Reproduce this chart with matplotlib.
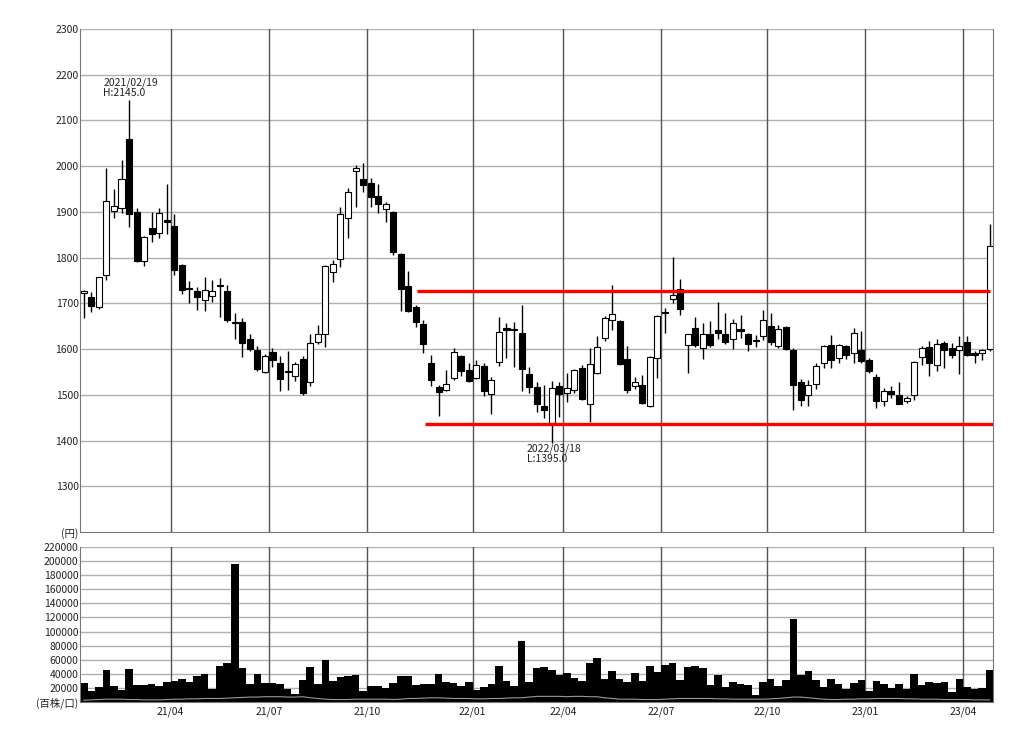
import numpy as np
import matplotlib
matplotlib.use("Agg")
import matplotlib.pyplot as plt

plt.rcParams['font.family'] = ['Noto Sans CJK JP', 'DejaVu Sans']

# weekly OHLC, 2021/01/08 .. 2023/04/28
opens = [1722, 1715, 1693, 1762, 1903, 1908, 2059, 1900, 1793, 1865,
         1854, 1882, 1869, 1784, 1733, 1727, 1708, 1717, 1737, 1728,
         1658, 1660, 1623, 1599, 1549, 1593, 1569, 1551, 1542, 1579,
         1527, 1616, 1634, 1769, 1796, 1886, 1990, 1973, 1964, 1935,
         1906, 1900, 1807, 1737, 1691, 1655, 1569, 1517, 1511, 1537,
         1584, 1555, 1537, 1564, 1502, 1572, 1646, 1642, 1636, 1545,
         1518, 1476, 1439, 1519, 1505, 1510, 1558, 1481, 1548, 1624,
         1664, 1661, 1578, 1520, 1522, 1475, 1580, 1682, 1710, 1732,
         1608, 1646, 1602, 1633, 1641, 1634, 1621, 1645, 1632, 1619,
         1629, 1650, 1606, 1648, 1599, 1528, 1499, 1524, 1570, 1608,
         1581, 1606, 1591, 1599, 1577, 1540, 1487, 1508, 1500, 1487,
         1500, 1583, 1605, 1566, 1613, 1602, 1599, 1615, 1591, 1591,
         1600]
highs = [1730, 1725, 1758, 1995, 1950, 2013, 2145, 1908, 1847, 1900,
         1908, 1962, 1896, 1786, 1749, 1736, 1757, 1750, 1756, 1740,
         1678, 1667, 1632, 1606, 1590, 1602, 1584, 1595, 1572, 1584,
         1634, 1652, 1783, 1795, 1910, 1953, 2002, 2006, 1975, 1962,
         1922, 1902, 1810, 1770, 1697, 1664, 1588, 1522, 1555, 1602,
         1588, 1570, 1577, 1570, 1540, 1671, 1658, 1660, 1697, 1561,
         1529, 1522, 1530, 1529, 1547, 1556, 1565, 1602, 1629, 1672,
         1740, 1663, 1606, 1540, 1544, 1585, 1675, 1690, 1801, 1754,
         1634, 1670, 1657, 1661, 1702, 1679, 1666, 1674, 1635, 1630,
         1686, 1679, 1653, 1650, 1602, 1535, 1533, 1570, 1610, 1630,
         1612, 1610, 1646, 1640, 1580, 1545, 1515, 1519, 1529, 1497,
         1574, 1606, 1617, 1621, 1618, 1613, 1628, 1629, 1595, 1600,
         1874]
lows = [1668, 1682, 1688, 1752, 1886, 1897, 1866, 1790, 1781, 1834,
        1843, 1852, 1762, 1720, 1700, 1686, 1683, 1703, 1670, 1660,
        1623, 1582, 1596, 1553, 1547, 1560, 1509, 1511, 1531, 1500,
        1520, 1612, 1605, 1747, 1779, 1844, 1911, 1944, 1911, 1897,
        1878, 1806, 1684, 1682, 1648, 1591, 1520, 1453, 1508, 1533,
        1542, 1528, 1535, 1498, 1457, 1562, 1580, 1560, 1508, 1503,
        1462, 1449, 1395, 1452, 1485, 1505, 1488, 1441, 1545, 1618,
        1642, 1565, 1505, 1512, 1480, 1473, 1537, 1635, 1700, 1674,
        1548, 1605, 1578, 1605, 1621, 1612, 1600, 1625, 1595, 1605,
        1620, 1610, 1602, 1598, 1466, 1476, 1476, 1512, 1559, 1559,
        1570, 1578, 1570, 1570, 1548, 1471, 1475, 1492, 1479, 1482,
        1489, 1566, 1542, 1553, 1559, 1581, 1546, 1585, 1570, 1577,
        1595]
closes = [1726, 1695, 1757, 1924, 1912, 1973, 1895, 1793, 1845, 1852,
          1898, 1877, 1772, 1730, 1731, 1713, 1730, 1726, 1741, 1664,
          1660, 1613, 1600, 1557, 1585, 1576, 1535, 1549, 1567, 1503,
          1614, 1634, 1781, 1785, 1895, 1943, 1997, 1959, 1933, 1917,
          1917, 1813, 1731, 1684, 1660, 1611, 1532, 1507, 1524, 1593,
          1551, 1530, 1566, 1508, 1533, 1637, 1642, 1641, 1556, 1518,
          1481, 1467, 1516, 1501, 1516, 1554, 1491, 1567, 1605, 1668,
          1677, 1567, 1510, 1527, 1483, 1583, 1672, 1679, 1719, 1688,
          1632, 1608, 1633, 1608, 1635, 1616, 1656, 1640, 1612, 1618,
          1663, 1615, 1643, 1600, 1521, 1488, 1522, 1562, 1606, 1577,
          1608, 1588, 1635, 1575, 1551, 1487, 1508, 1502, 1481, 1494,
          1572, 1602, 1570, 1612, 1597, 1586, 1606, 1588, 1588, 1597,
          1826]

volume = [26800, 16000, 21200, 45700, 23100, 16500, 46200, 24500, 23500, 25900,
          22100, 28300, 29200, 33000, 27800, 36300, 39600, 18400, 51300, 55100,
          196400, 48000, 25900, 40000, 26800, 26800, 25400, 18800, 11800, 30600,
          49500, 25400, 59800, 29200, 34900, 37200, 38600, 16000, 22100, 23100,
          19800, 26800, 37200, 36300, 24500, 25400, 25900, 40000, 28300, 27300,
          22100, 27800, 17400, 21200, 25900, 51800, 30100, 23100, 87100, 27800,
          47600, 49900, 45700, 38200, 41000, 34400, 29700, 56000, 63100, 32500,
          44700, 33000, 27800, 40500, 30100, 51800, 42400, 52800, 55100, 31600,
          49900, 50400, 47600, 24500, 37700, 21200, 27800, 25400, 23500, 9400,
          27800, 32500, 22100, 30600, 117300, 38600, 43300, 30600, 21200, 32500,
          25400, 18400, 26800, 31600, 15100, 29200, 25900, 19800, 25900, 18800,
          40000, 24500, 28300, 26800, 27800, 14100, 32500, 21200, 18800, 19800,
          45200]

# thin grey line in the volume panel (thousands)
vol_line = [2.5, 3, 3.5, 4, 4, 4, 3.5, 3.5, 3, 3, 3, 3.5,
            4, 4, 4.5, 4.5, 5, 5, 5, 5.5, 6, 6.5, 7, 7, 7.5,
            7.5, 7.5, 7, 7, 7.5, 6, 5, 4, 3.5, 3.5, 3.5, 4, 4,
            4, 4, 4, 3.5, 4, 5, 5, 5.5, 6, 6, 5.5, 5, 5, 5,
            4.5, 4.5, 5, 5, 5.5, 6, 6, 7, 8, 8, 8, 8, 7.5,
            8, 8, 7.5, 7.5, 6, 5, 4, 4, 4, 3.5, 3.5, 3.5, 4,
            4.5, 5, 5, 5, 5, 5, 4.5, 4.5, 4, 4, 4, 4, 4,
            4.5, 5, 6, 7, 7, 6, 5, 4, 3.5, 3.5, 4, 4, 4.5,
            4.5, 5, 5, 5, 5, 4.5, 4.5, 4, 4, 4, 3.5, 3.5, 3.5, 3.5, 3, 3, 3]

# first week index of each quarter month
quarter_weeks = [12, 25, 38, 52, 64, 77, 91, 104, 117]
quarter_labels = ['21/04', '21/07', '21/10', '22/01', '22/04', '22/07', '22/10', '23/01', '23/04']

price_ticks = [1200, 1300, 1400, 1500, 1600, 1700, 1800, 1900, 2000, 2100, 2200, 2300]
vol_ticks = list(range(0, 220001, 20000))

upper_line = (44.1, 120.0, 1726)
lower_line = (45.2, 120.4, 1436)

o = np.array(opens); h = np.array(highs); l = np.array(lows); c = np.array(closes)
x = np.arange(len(o))

fig = plt.figure(figsize=(10.24, 7.44), dpi=100)
ax = fig.add_axes([80/1024, 1-532/744, 913/1024, 503/744])
axv = fig.add_axes([80/1024, 1-702/744, 913/1024, 155/744])

gridc = '#b0b0b0'
vc = '#555555'

# price panel
for a in (ax, axv):
    a.set_xlim(-0.5, 120.45)
    for q in quarter_weeks:
        a.axvline(q - 0.5, color=vc, lw=1.0, zorder=1)
    for s in ['top']:
        a.spines[s].set_visible(False)
    for s in ['left', 'right', 'bottom']:
        a.spines[s].set_color('#777777')
    a.tick_params(axis='both', length=0, labelsize=7.5, colors='#222222', pad=1)

ax.set_ylim(1200, 2300)
ax.set_yticks(price_ticks)
ax.set_yticklabels(['(円)'] + [str(t) for t in price_ticks[1:]])
ax.set_xticks([])
for t in price_ticks[1:]:
    ax.axhline(t, color=gridc, lw=1.0, zorder=0)

ax.vlines(x, l, h, color='black', lw=1.0, zorder=2)
up = c >= o
body_lo = np.minimum(o, c)
body_h = np.maximum(np.abs(c - o), 2)
ax.bar(x[up], body_h[up], bottom=body_lo[up], width=0.8, color='white',
       edgecolor='black', linewidth=0.8, zorder=3)
ax.bar(x[~up], body_h[~up], bottom=body_lo[~up], width=0.8, color='black',
       edgecolor='black', linewidth=0.8, zorder=3)

ax.hlines(upper_line[2], upper_line[0], upper_line[1], color='#ff0000', lw=2.4, zorder=4)
ax.hlines(lower_line[2], lower_line[0], lower_line[1], color='#ff0000', lw=2.4, zorder=4)

ax.text(2.6, 2150, '2021/02/19\nH:2145.0', fontsize=7.5, ha='left', va='bottom',
        linespacing=1.0, color='#222222')
ax.text(58.7, 1394, '2022/03/18\nL:1395.0', fontsize=7.5, ha='left', va='top',
        linespacing=1.0, color='#222222')

# volume panel
axv.set_ylim(0, 220000)
axv.set_yticks(vol_ticks)
axv.set_yticklabels(['(百株/口)'] + [str(t) for t in vol_ticks[1:]])
for t in vol_ticks[1:]:
    axv.axhline(t, color=gridc, lw=1.0, zorder=0)
axv.bar(x, volume, width=1.0, color='black', edgecolor='none', zorder=2)
axv.plot(x, np.array(vol_line) * 1000, color='#999999', lw=0.8, zorder=3)
axv.set_xticks([q - 0.5 for q in quarter_weeks])
axv.set_xticklabels(quarter_labels)
axv.tick_params(axis='x', pad=3)

fig.savefig('out.png', dpi=100)
